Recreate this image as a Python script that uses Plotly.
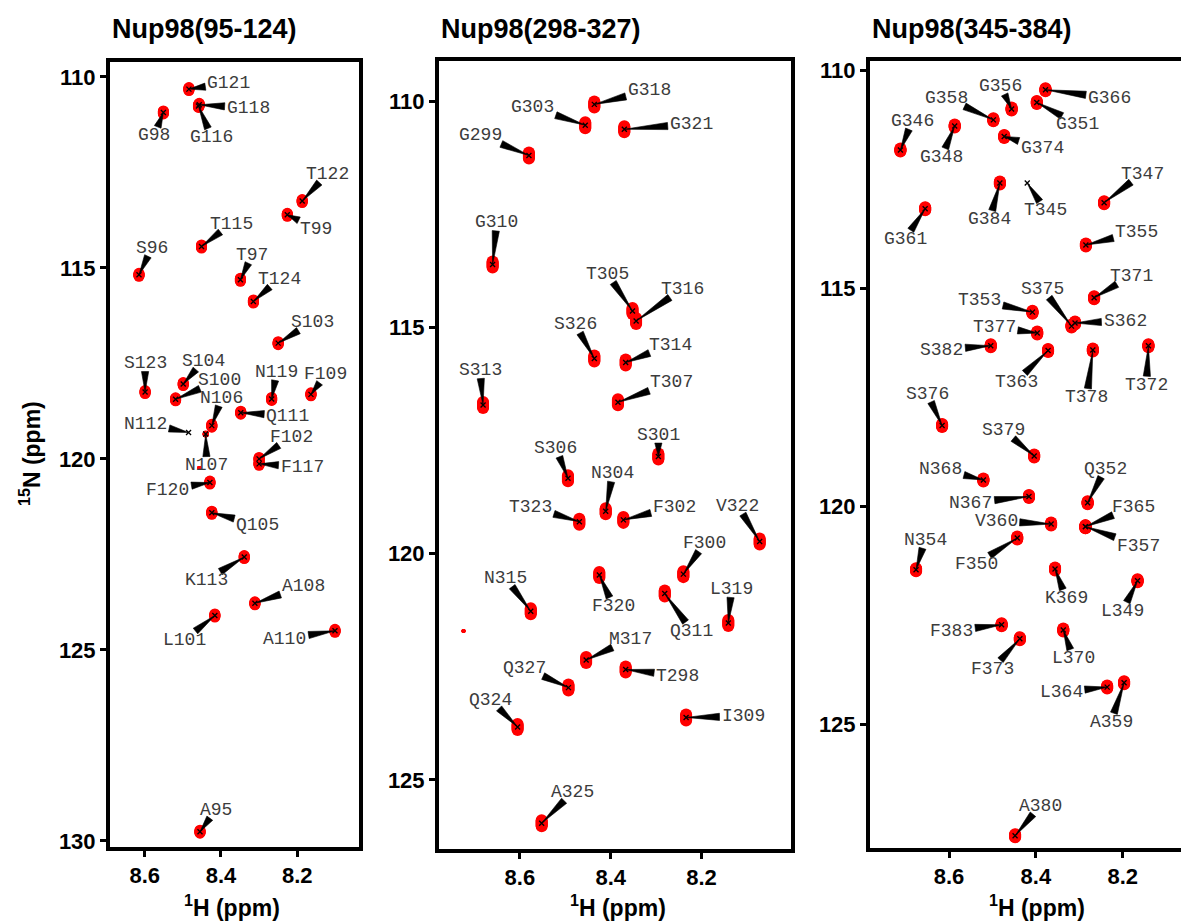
import numpy as np
import plotly.graph_objects as go

W, H = 1181, 921

# ---------------- data (1H ppm, 15N ppm) ----------------
p1_names = ["G121", "G118", "G116", "G98", "T122", "T99", "T115", "S96", "T97", "T124",
            "S103", "S123", "S104", "S100", "N119", "F109", "N106", "Q111", "N112", "N107",
            "F102", "F117", "F120", "Q105", "K113", "A108", "L101", "A110", "A95", ""]
p1_h = [8.484, 8.457, 8.459, 8.551, 8.187, 8.226, 8.451, 8.615, 8.349, 8.315,
        8.250, 8.599, 8.499, 8.519, 8.267, 8.164, 8.424, 8.348, 8.485, 8.440,
        8.300, 8.300, 8.429, 8.424, 8.339, 8.311, 8.416, 8.101, 8.455, 8.457]
p1_n = [110.32, 110.73, 110.76, 110.93, 113.25, 113.61, 114.44, 115.18, 115.31, 115.88,
        116.97, 118.25, 118.04, 118.44, 118.43, 118.31, 119.13, 118.79, 119.31, 119.35,
        120.00, 120.13, 120.62, 121.41, 122.57, 123.78, 124.10, 124.50, 129.76, 120.24]

p2_names = ["T298", "G299", "F300", "S301", "F302", "G303", "N304", "T305", "S306", "T307",
            "I309", "G310", "Q311", "S313", "T314", "N315", "T316", "M317", "G318", "L319",
            "F320", "G321", "V322", "T323", "Q324", "A325", "S326", "Q327", ""]
p2_h = [8.367, 8.580, 8.240, 8.295, 8.372, 8.456, 8.411, 8.352, 8.494, 8.384,
        8.234, 8.660, 8.281, 8.681, 8.367, 8.576, 8.344, 8.454, 8.436, 8.141,
        8.425, 8.370, 8.072, 8.469, 8.605, 8.552, 8.436, 8.493, 8.724]
p2_n = [122.56, 111.19, 120.45, 117.85, 119.25, 110.52, 119.06, 114.63, 118.33, 116.65,
        123.62, 113.60, 120.88, 116.71, 115.77, 121.27, 114.85, 122.35, 110.06, 121.53,
        120.47, 110.61, 119.73, 119.29, 123.83, 125.96, 115.68, 122.96, 121.71]

p3_names = ["T345", "G346", "T347", "G348", "L349", "F350", "G351", "Q352", "T353", "N354",
            "T355", "G356", "F357", "G358", "A359", "V360", "G361", "S362", "T363", "L364",
            "F365", "G366", "N367", "N368", "K369", "L370", "T371", "T372", "F373", "G374",
            "S375", "S376", "T377", "T378", "S379", "S382", "F383", "G384", "A380"]
p3_h = [8.420, 8.712, 8.243, 8.587, 8.166, 8.443, 8.398, 8.281, 8.408, 8.676,
        8.285, 8.456, 8.286, 8.498, 8.197, 8.365, 8.655, 8.310, 8.372, 8.236,
        8.286, 8.378, 8.416, 8.521, 8.356, 8.337, 8.266, 8.141, 8.437, 8.473,
        8.318, 8.616, 8.397, 8.269, 8.404, 8.504, 8.479, 8.483, 8.448]
p3_n = [112.58, 111.82, 113.03, 111.27, 121.70, 120.72, 110.73, 119.91, 115.54, 121.45,
        114.00, 110.88, 120.46, 111.13, 124.04, 120.40, 113.17, 115.79, 116.42, 124.14,
        120.46, 110.44, 119.77, 119.39, 121.43, 122.83, 115.21, 116.31, 123.03, 111.51,
        115.86, 118.14, 116.02, 116.41, 118.84, 116.31, 122.71, 112.58, 127.55]

titles = ["Nup98(95-124)", "Nup98(298-327)", "Nup98(345-384)"]
x_ticks = [8.6, 8.4, 8.2]
y_ticks = [[110, 115, 120, 125, 130], [110, 115, 120, 125], [110, 115, 120, 125]]

weak_peaks = {"N112", "T345"}      # cross only, no contour
small_peaks = {"N107"}

# ---------------- layout helpers (pixel label offsets, screen coords, y down) ----------------
label_offsets = {
    "G121": (40, -6), "G118": (49, 3), "G116": (13, 31), "G98": (-9, 23), "T122": (25, -27),
    "T99": (29, 14), "T115": (30, -23), "S96": (13, -27), "T97": (12, -25), "T124": (26, -23),
    "S103": (34, -21), "S123": (0, -29), "S104": (20, -23), "S100": (44, -19), "N119": (5, -27),
    "F109": (15, -20), "N106": (10, -28), "Q111": (47, 3), "N112": (-43, -9), "N107": (1, 31),
    "F102": (32, -22), "F117": (43, 3), "F120": (-42, 7), "Q105": (46, 12), "K113": (-38, 23),
    "A108": (49, -17), "L101": (-30, 24), "A110": (-50, 8), "A95": (16, -22),
    "T298": (52, 6), "G299": (-48, -20), "F300": (21, -31), "S301": (0, -22), "F302": (51, -13),
    "G303": (-53, -18), "N304": (7, -38), "T305": (-25, -37), "S306": (-12, -30), "T307": (54, -20),
    "I309": (57, -1), "G310": (4, -42), "Q311": (27, 37), "S313": (-3, -35), "T314": (45, -18),
    "N315": (-25, -33), "T316": (46, -32), "M317": (44, -21), "G318": (55, -14), "L319": (3, -34),
    "F320": (14, 31), "G321": (67, -5), "V322": (-22, -36), "T323": (-49, -15), "Q324": (-27, -27),
    "A325": (31, -31), "S326": (-19, -34), "Q327": (-44, -20),
    "T345": (18, 27), "G346": (12, -29), "T347": (38, -29), "G348": (-13, 31), "L349": (-15, 30),
    "F350": (-41, 26), "G351": (41, 22), "Q352": (18, -34), "T353": (-53, -12), "N354": (9, -30),
    "T355": (51, -13), "G356": (-11, -23), "F357": (53, 19), "G358": (-47, -22), "A359": (-13, 39),
    "V360": (-55, -3), "G361": (-20, 30), "S362": (50, -2), "T363": (-32, 31), "L364": (-46, 5),
    "F365": (48, -20), "G366": (64, 8), "N367": (-58, 6), "N368": (-43, -11), "K369": (11, 29),
    "L370": (10, 28), "T371": (37, -22), "T372": (-2, 39), "F373": (-27, 30), "G374": (38, 12),
    "S375": (-29, -37), "S376": (-15, -32), "T377": (-43, -6), "T378": (-6, 47), "S379": (-31, -26),
    "S382": (-49, 4), "F383": (-50, 6), "G384": (-10, 36), "A380": (25, -30),
}

panels = [
    dict(names=p1_names, h=p1_h, n=p1_n, box=(110, 359, 62, 847), xr=(8.691, 8.038), yr=(130.16, 109.61),
         line_right=True, blob=11, stretch=1.5),
    dict(names=p2_names, h=p2_h, n=p2_n, box=(439, 791, 61, 849), xr=(8.778, 8.003), yr=(126.53, 109.10),
         line_right=True, blob=12, stretch=3.0),
    dict(names=p3_names, h=p3_h, n=p3_n, box=(870, 1181, 61, 848), xr=(8.782, 8.066), yr=(127.83, 109.78),
         line_right=False, blob=12, stretch=1.5),
]

LABEL_FONT = 18
CHAR_W = 0.6 * LABEL_FONT
TEXT_COLOR = "#3c3c3c"

fig = go.Figure()
annotations = []

for i, p in enumerate(panels):
    sfx = "" if i == 0 else str(i + 1)
    xa, ya = "x" + sfx, "y" + sfx
    left, right, top, bottom = p["box"]
    kx = (right - left) / (p["xr"][0] - p["xr"][1])     # px per ppm (1H)
    ky = (bottom - top) / (p["yr"][0] - p["yr"][1])     # px per ppm (15N)

    hs = np.array(p["h"], float)
    ns = np.array(p["n"], float)
    names = p["names"]

    sizes, stretch = [], []
    for nm in names:
        if nm in weak_peaks:
            sizes.append(0); stretch.append(0.0)
        elif nm == "":
            sizes.append(4); stretch.append(0.0)
        elif nm in small_peaks:
            sizes.append(6); stretch.append(0.5)
        else:
            sizes.append(p["blob"]); stretch.append(p["stretch"])
    sizes = np.array(sizes)
    stretch = np.array(stretch) / ky

    # red contour blobs (slightly elongated along 15N)
    bx, by, bs = [], [], []
    for f in np.linspace(-1, 1, 7):
        bx.append(hs)
        by.append(ns + f * stretch)
        bs.append(sizes)
    fig.add_trace(go.Scatter(x=np.concatenate(bx), y=np.concatenate(by), mode="markers",
                             xaxis=xa, yaxis=ya,
                             marker=dict(symbol="circle", size=np.concatenate(bs), color="#ff0000",
                                         opacity=1, line=dict(width=0)),
                             hoverinfo="skip", showlegend=False))

    # wedge leaders
    wx, wy = [], []
    for nm, h0, n0 in zip(names, hs, ns):
        if not nm:
            continue
        lx, ly = label_offsets[nm]
        hw = len(nm) * CHAR_W / 2 + 2
        hh = 8.5
        s_cands = []
        if abs(lx) > 1e-6:
            s_cands.append(hw / abs(lx))
        if abs(ly) > 1e-6:
            s_cands.append(hh / abs(ly))
        s = min(s_cands)
        if s < 0.85:
            ex, ey = lx * (1 - s), ly * (1 - s)
            L = np.hypot(ex, ey)
            px_, py_ = -ey / L, ex / L
            bw = 3.6
            pts = [(0.0, 0.0), (ex + px_ * bw, ey + py_ * bw), (ex - px_ * bw, ey - py_ * bw), (0.0, 0.0)]
            for sx, sy in pts:
                wx.append(h0 - sx / kx)
                wy.append(n0 + sy / ky)
            wx.append(None)
            wy.append(None)
        annotations.append(dict(x=h0, y=n0, xref=xa, yref=ya, text=nm, showarrow=False,
                                xshift=lx, yshift=-ly, xanchor="center", yanchor="middle",
                                font=dict(family="Liberation Mono, Courier New, monospace",
                                          size=LABEL_FONT, color=TEXT_COLOR)))
    fig.add_trace(go.Scatter(x=wx, y=wy, mode="lines", fill="toself", fillcolor="black",
                             line=dict(width=0.6, color="black"), xaxis=xa, yaxis=ya,
                             hoverinfo="skip", showlegend=False))

    # cross marks at assigned peak centers
    mask = np.array([bool(nm) for nm in names])
    fig.add_trace(go.Scatter(x=hs[mask], y=ns[mask], mode="markers", xaxis=xa, yaxis=ya,
                             marker=dict(symbol="x-thin", size=5, line=dict(width=1.3, color="black")),
                             hoverinfo="skip", showlegend=False))

    tickfont = dict(family="Liberation Sans, Arial", size=22, color="black", weight="bold")
    fig.update_layout(**{
        ("xaxis" + sfx): dict(domain=[left / W, right / W], range=list(p["xr"]), anchor=ya,
                              tickvals=x_ticks, ticktext=[f"{v:.1f}" for v in x_ticks],
                              ticks="outside", ticklen=6, tickwidth=3, tickcolor="black",
                              showline=True, linewidth=4, linecolor="black", mirror=True,
                              showgrid=False, zeroline=False, tickfont=tickfont, automargin=False),
        ("yaxis" + sfx): dict(domain=[1 - bottom / H, 1 - top / H], range=list(p["yr"]), anchor=xa,
                              tickvals=y_ticks[i], ticks="outside", ticklen=6, tickwidth=3,
                              tickcolor="black", showline=True, linewidth=4, linecolor="black",
                              mirror=p["line_right"], showgrid=False, zeroline=False,
                              tickfont=tickfont, automargin=False),
    })

    # panel title
    annotations.append(dict(x=left / W, y=1 - 29 / H, xref="paper", yref="paper", text="<b>" + titles[i] + "</b>",
                            showarrow=False, xanchor="left", yanchor="middle",
                            font=dict(family="Liberation Sans, Arial", size=27, color="black")))

# x-axis titles
for xc in [232, 618, 1037]:
    annotations.append(dict(x=xc / W, y=1 - 906 / H, xref="paper", yref="paper",
                            text="<b><sup>1</sup>H (ppm)</b>", showarrow=False,
                            xanchor="center", yanchor="middle",
                            font=dict(family="Liberation Sans, Arial", size=23, color="black")))
# y-axis title
annotations.append(dict(x=30 / W, y=1 - 454 / H, xref="paper", yref="paper",
                        text="<b><sup>15</sup>N (ppm)</b>", showarrow=False, textangle=-90,
                        xanchor="center", yanchor="middle",
                        font=dict(family="Liberation Sans, Arial", size=23, color="black")))

fig.update_layout(width=W, height=H, margin=dict(l=0, r=0, t=0, b=0),
                  paper_bgcolor="white", plot_bgcolor="white", annotations=annotations,
                  showlegend=False)

fig.write_html("out.html")
